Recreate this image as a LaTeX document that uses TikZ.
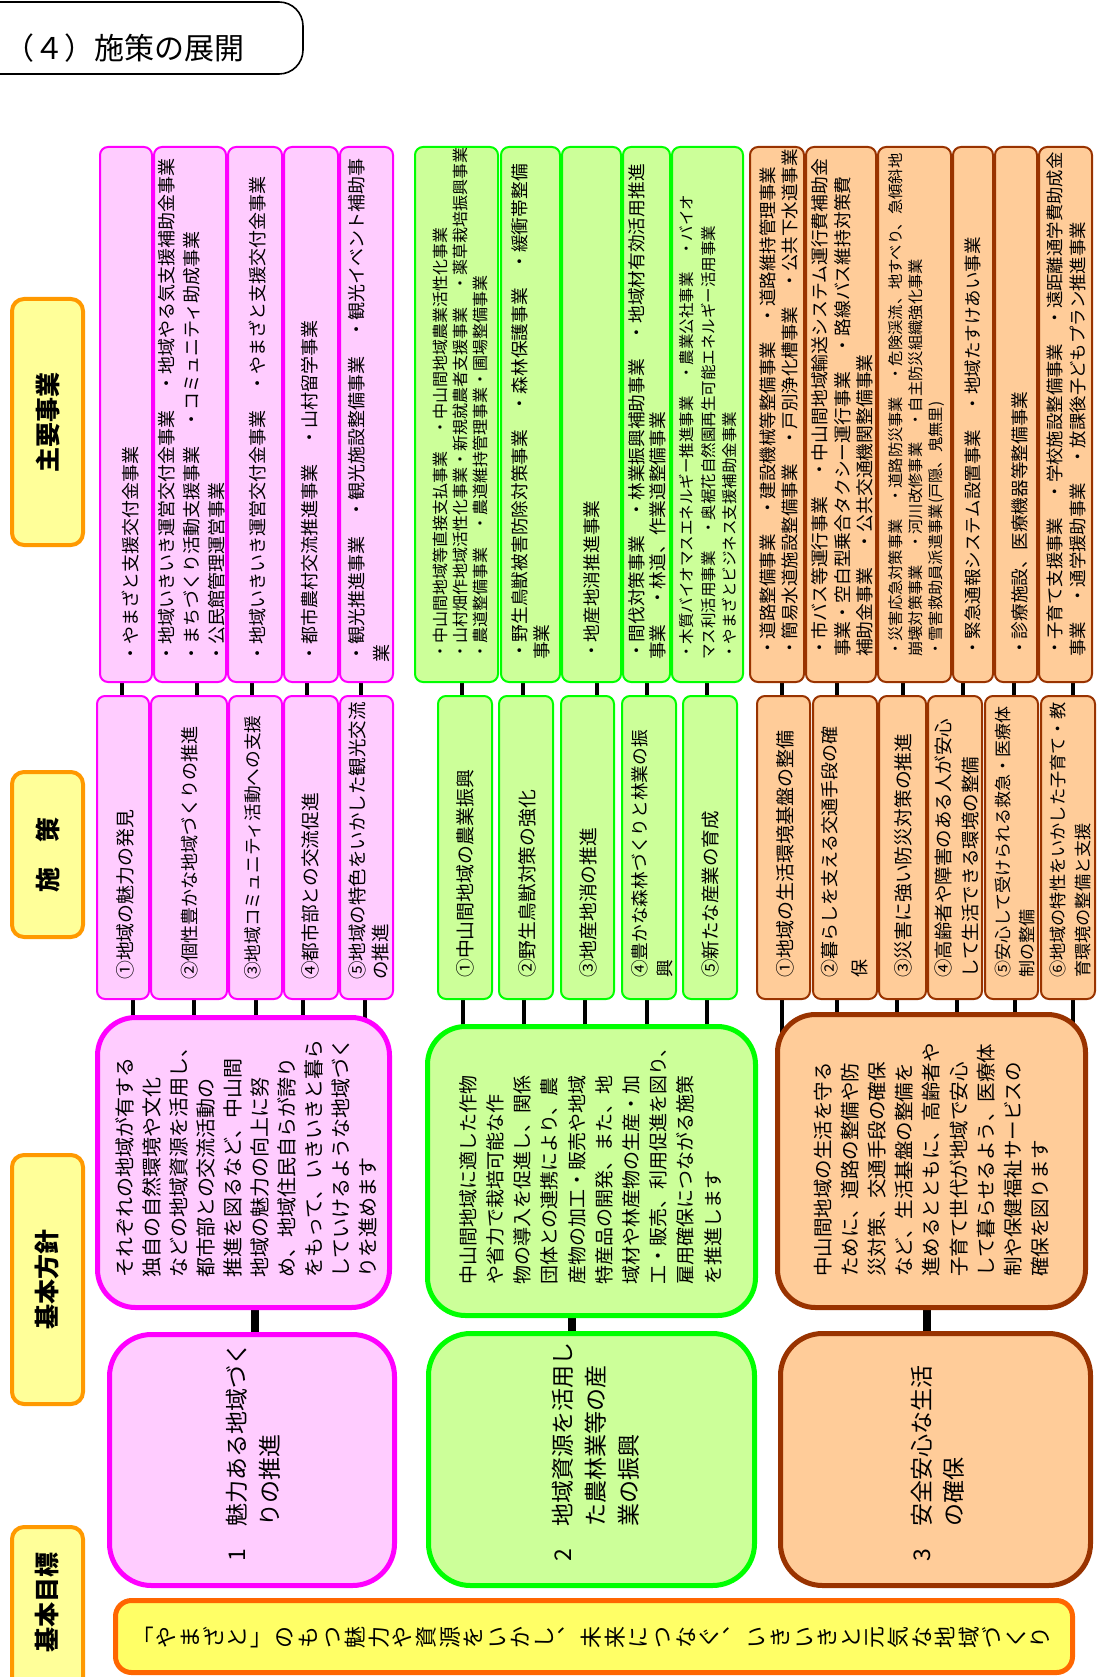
\documentclass[tikz,border=0pt]{standalone}
\usepackage{fontspec}
\setmainfont{Noto Sans CJK JP}
\pgfdeclarelayer{bg}
\pgfsetlayers{bg,main}
\definecolor{pinkF}{HTML}{FFCCFF}
\definecolor{pinkB}{HTML}{FF00FF}
\definecolor{greenF}{HTML}{CCFF99}
\definecolor{greenB}{HTML}{00FF00}
\definecolor{orF}{HTML}{FFCC99}
\definecolor{orB}{HTML}{993300}
\definecolor{hdrF}{HTML}{FFFF99}
\definecolor{hdrB}{HTML}{FF9900}
\definecolor{banF}{HTML}{FFFF66}
\definecolor{banB}{HTML}{FF6600}
\newcommand\fz[2]{\fontsize{#1}{#2}\selectfont}
\newcommand\mkbox[6]{\node[#1, minimum width={(#5)-(#3)}, minimum height={(#6)-(#4)}] (#2) at ({((#3)+(#5))/2},{((#4)+(#6))/2}) {};}
\tikzset{
  hdr/.style={draw=hdrB, fill=hdrF, line width=4pt, rounded corners=12pt, inner sep=0pt},
  ban/.style={draw=banB, fill=banF, line width=5pt, rounded corners=16pt, inner sep=0pt},
  bchar/.style={rotate=90, inner sep=0pt, font=\fz{22}{22}, text height=19.4pt, text depth=2.6pt, text width=22pt, align=center},
  pkS/.style={draw=pinkB, fill=pinkF, line width=2pt, rounded corners=8pt, inner sep=0pt},
  pkL/.style={draw=pinkB, fill=pinkF, line width=5pt, rounded corners=38pt, inner sep=0pt},
  pkG/.style={draw=pinkB, fill=pinkF, line width=5pt, rounded corners=42pt, inner sep=0pt},
  grS/.style={draw=greenB, fill=greenF, line width=2pt, rounded corners=8pt, inner sep=0pt},
  grL/.style={draw=greenB, fill=greenF, line width=5pt, rounded corners=38pt, inner sep=0pt},
  grG/.style={draw=greenB, fill=greenF, line width=5pt, rounded corners=42pt, inner sep=0pt},
  orS/.style={draw=orB, fill=orF, line width=2pt, rounded corners=8pt, inner sep=0pt},
  orL/.style={draw=orB, fill=orF, line width=5pt, rounded corners=38pt, inner sep=0pt},
  orG/.style={draw=orB, fill=orF, line width=5pt, rounded corners=42pt, inner sep=0pt},
  rt/.style={rotate=90, anchor=west, inner sep=0pt, align=left},
  htext/.style={rotate=90, inner sep=0pt, font=\fz{25}{25}\bfseries},
  conn/.style={line width=4pt, black},
  connB/.style={line width=8pt, black},
}
\begin{document}
\begin{tikzpicture}[x=1pt,y=-1pt]
\useasboundingbox (0,0) rectangle (1096,1677);

% title
\draw[line width=1.6pt, rounded corners=24pt] (-30,2) -- (303,2) -- (303,74) -- (-30,74);
\node[anchor=west, inner sep=0pt, font=\fz{30}{30}] (ttl) at (4,48) {（４）施策の展開};

% headers
\mkbox{hdr}{h1}{12}{299}{83}{545}
\mkbox{hdr}{h2}{12}{772}{83}{937}
\mkbox{hdr}{h3}{12}{1155}{83}{1404}
\mkbox{hdr}{h4}{12}{1527}{83}{1720}
\node[htext] (th1) at (47.5,422) {主要事業};
\node[htext] (th2) at (47.5,854.5) {施　策};
\node[htext] (th3) at (47.5,1279.5) {基本方針};
\node[htext] (th4) at (47.5,1602) {基本目標};

% banner (vertical writing, page turned)
\mkbox{ban}{banner}{115.5}{1600.5}{1072.5}{1672.5}
\foreach \c [count=\i] in {﹁,や,ま,ざ,と,﹂,の,も,つ,魅,力,や,資,源,を,い,か,し,︑,未,来,に,つ,な,ぐ,︑,い,き,い,き,と,元,気,な,地,域,づ,く,り}
  \node[bchar] (bc\i) at ({131+23.6*(\i-0.5)},1637) {\c};

% ---------- pink column ----------
\mkbox{pkS}{mp1}{100}{147}{152}{682}
\mkbox{pkS}{mp2}{154}{147}{226}{682}
\mkbox{pkS}{mp3}{228}{147}{282}{682}
\mkbox{pkS}{mp4}{284}{147}{338}{682}
\mkbox{pkS}{mp5}{340}{147}{393}{682}
\mkbox{pkS}{sp1}{97}{696}{149}{999}
\mkbox{pkS}{sp2}{151}{696}{227}{999}
\mkbox{pkS}{sp3}{229}{696}{282}{999}
\mkbox{pkS}{sp4}{284}{696}{338}{999}
\mkbox{pkS}{sp5}{340}{696}{393}{999}
\mkbox{pkL}{polp}{97.5}{1017.5}{389.5}{1307.5}
\mkbox{pkG}{goalp}{109.5}{1334.5}{394.5}{1585.5}

\node[rt, font=\fz{18}{25}] (tmp1) at (130,663) {・やまざと支援交付金事業};
\node[rt, font=\fz{18}{25}] (tmp2) at (192,663) {・地域いきいき運営交付金事業　・地域やる気支援補助金事業\\・まちづくり活動支援事業　・コミュニティ助成事業\\・公民館管理運営事業};
\node[rt, font=\fz{18}{25}] (tmp3) at (257,663) {・地域いきいき運営交付金事業　・やまざと支援交付金事業};
\node[rt, font=\fz{18}{25}] (tmp4) at (310,663) {・都市農村交流推進事業　・山村留学事業};
\node[rt, font=\fz{18}{25}] (tmp5) at (369,663) {・観光推進事業　・観光施設整備事業　・観光イベント補助事\\業};

\node[rt, font=\fz{18.9}{23}] (tsp1) at (125,980) {①地域の魅力の発見};
\node[rt, font=\fz{18.1}{23}] (tsp2) at (190,980) {②個性豊かな地域づくりの推進};
\node[rt, font=\fz{17.7}{23}] (tsp3) at (253,980) {③地域コミュニティ活動への支援};
\node[rt, font=\fz{18.7}{23}] (tsp4) at (310,980) {④都市部との交流促進};
\node[rt, font=\fz{18.5}{23}] (tsp5) at (368.5,980) {⑤地域の特色をいかした観光交流\\の推進};

\node[rt, font=\fz{20}{27}] (tpolp) at (246.5,1278) {それぞれの地域が有する\\独自の自然環境や文化\\などの地域資源を活用し、\\都市部との交流活動の\\推進を図るなど、中山間\\地域の魅力の向上に努\\め、地域住民自らが誇り\\をもって、いきいきと暮ら\\していけるような地域づく\\りを進めます};

\node[rt, font=\fz{23}{33}] (tgoalp) at (253.5,1562) {\makebox[35pt][l]{1}魅力ある地域づく\\\hspace*{35pt}りの推進};

% ---------- green column ----------
\mkbox{grS}{mg1}{415}{147}{498}{682}
\mkbox{grS}{mg2}{501}{147}{560}{682}
\mkbox{grS}{mg3}{562}{147}{621}{682}
\mkbox{grS}{mg4}{623}{147}{670}{682}
\mkbox{grS}{mg5}{672}{147}{743}{682}
\mkbox{grS}{sg1}{438}{696}{492}{999}
\mkbox{grS}{sg2}{499}{696}{553}{999}
\mkbox{grS}{sg3}{561}{696}{614}{999}
\mkbox{grS}{sg4}{622}{696}{676}{999}
\mkbox{grS}{sg5}{683}{696}{737}{999}
\mkbox{grL}{polg}{427.5}{1026.5}{755.5}{1315.5}
\mkbox{grG}{goalg}{428.5}{1333.5}{754.5}{1585.5}

\node[rt, font=\fz{16}{20}] (tmg1) at (460,660) {・中山間地域等直接支払事業　・中山間地域農業活性化事業\\・山村畑作地域活性化事業・新規就農者支援事業　・薬草栽培振興事業\\・農道整備事業　・農道維持管理事業・圃場整備事業};
\node[rt, font=\fz{17.7}{22}] (tmg2) at (531,660) {・野生鳥獣被害防除対策事業　・森林保護事業　・緩衝帯整備\\事業};
\node[rt, font=\fz{17.7}{22}] (tmg3) at (592,660) {・地産地消推進事業};
\node[rt, font=\fz{17.7}{21}] (tmg4) at (647.5,660) {・間伐対策事業　・林業振興補助事業　・地域材有効活用推進\\事業　・林道、作業道整備事業};
\node[rt, font=\fz{15.5}{21.5}] (tmg5) at (708.5,660) {・木質バイオマスエネルギー推進事業　・農業公社事業　・バイオ\\マス利活用事業　・奥裾花自然園再生可能エネルギー活用事業\\・やまざとビジネス支援補助金事業};

\node[rt, font=\fz{18.9}{23}] (tsg1) at (465,978) {①中山間地域の農業振興};
\node[rt, font=\fz{18.8}{23}] (tsg2) at (527,978) {②野生鳥獣対策の強化};
\node[rt, font=\fz{18.75}{23}] (tsg3) at (588,978) {③地産地消の推進};
\node[rt, font=\fz{17.7}{25}] (tsg4) at (652.5,978) {④豊かな森林づくりと林業の振\\興};
\node[rt, font=\fz{18.5}{23}] (tsg5) at (710,978) {⑤新たな産業の育成};

\node[rt, font=\fz{19}{27.2}] (tpolg) at (590.5,1285) {中山間地域に適した作物\\や省力で栽培可能な作\\物の導入を促進し、関係\\団体との連携により、農\\産物の加工・販売や地域\\特産品の開発、また、地\\域材や林産物の生産・加\\工・販売、利用促進を図り、\\雇用確保につながる施策\\を推進します};

\node[rt, font=\fz{23}{33}] (tgoalg) at (596,1562) {\makebox[35pt][l]{2}地域資源を活用し\\\hspace*{35pt}た農林業等の産\\\hspace*{35pt}業の振興};

% ---------- orange column ----------
\mkbox{orS}{mo1}{750}{147}{804}{682}
\mkbox{orS}{mo2}{806}{147}{876}{682}
\mkbox{orS}{mo3}{878}{147}{951}{682}
\mkbox{orS}{mo4}{953}{147}{993}{682}
\mkbox{orS}{mo5}{995}{147}{1037}{682}
\mkbox{orS}{mo6}{1039}{147}{1092}{682}
\mkbox{orS}{so1}{757}{696}{810}{999}
\mkbox{orS}{so2}{813}{696}{877}{999}
\mkbox{orS}{so3}{879}{696}{926}{999}
\mkbox{orS}{so4}{928}{696}{982}{999}
\mkbox{orS}{so5}{985}{696}{1038}{999}
\mkbox{orS}{so6}{1041}{696}{1095}{999}
\mkbox{orL}{polo}{777.5}{1014.5}{1085.5}{1307.5}
\mkbox{orG}{goalo}{780.5}{1333.5}{1090.5}{1585.5}

\node[rt, font=\fz{17.5}{22}] (tmo1) at (779,657) {・道路整備事業　・建設機械等整備事業　・道路維持管理事業\\・簡易水道施設整備事業　・戸別浄化槽事業　・公共下水道事業};
\node[rt, font=\fz{17.8}{22.5}] (tmo2) at (842.5,657) {・市バス等運行事業　・中山間地域輸送システム運行費補助金\\事業・空白型乗合タクシー運行事業　・路線バス維持対策費\\補助金事業　・公共交通機関整備事業};
\node[rt, font=\fz{15.3}{20}] (tmo3) at (917,657) {・災害応急対策事業　・道路防災事業　・危険渓流、地すべり、急傾斜地\\崩壊対策事業　・河川改修事業　・自主防災組織強化事業\\・雪害救助員派遣事業(戸隠、鬼無里)};
\node[rt, font=\fz{17.5}{22}] (tmo4) at (973,657) {・緊急通報システム設置事業　・地域たすけあい事業};
\node[rt, font=\fz{17.7}{22}] (tmo5) at (1020,657) {・診療施設、医療機器等整備事業};
\node[rt, font=\fz{17.4}{23}] (tmo6) at (1066.5,657) {・子育て支援事業　・学校施設整備事業　・遠距離通学費助成金\\事業　・通学援助事業　・放課後子どもプラン推進事業};

\node[rt, font=\fz{19}{23}] (tso1) at (785,978) {①地域の生活環境基盤の整備};
\node[rt, font=\fz{18}{30}] (tso2) at (845,978) {②暮らしを支える交通手段の確\\保};
\node[rt, font=\fz{18.8}{23}] (tso3) at (903,978) {③災害に強い防災対策の推進};
\node[rt, font=\fz{18.5}{27}] (tso4) at (956.5,978) {④高齢者や障害のある人が安心\\して生活できる環境の整備};
\node[rt, font=\fz{17}{24}] (tso5) at (1015,978) {⑤安心して受けられる救急・医療体\\制の整備};
\node[rt, font=\fz{17.2}{25}] (tso6) at (1070.5,978) {⑥地域の特性をいかした子育て・教\\育環境の整備と支援};

\node[rt, font=\fz{19.5}{27.1}] (tpolo) at (931.5,1277) {中山間地域の生活を守る\\ために、道路の整備や防\\災対策、交通手段の確保\\など、生活基盤の整備を\\進めるとともに、高齢者や\\子育て世代が地域で安心\\して暮らせるよう、医療体\\制や保健福祉サービスの\\確保を図ります};

\node[rt, font=\fz{23}{32}] (tgoalo) at (938,1562) {\makebox[35pt][l]{3}安全安心な生活\\\hspace*{35pt}の確保};

% ---------- connectors (behind boxes) ----------
\begin{pgfonlayer}{bg}
\fill[white] (0,0) rectangle (1096,1677);
\foreach \ca/\cb/\xx in {mp1/sp1/122, mp2/sp2/197, mp3/sp3/252, mp4/sp4/307, mp5/sp5/361,
  sp1/polp/133, sp2/polp/194, sp3/polp/256, sp4/polp/303, sp5/polp/365,
  mg1/sg1/462, mg2/sg2/523, mg3/sg3/597, mg4/sg4/647, mg5/sg5/707,
  sg1/polg/463, sg2/polg/524, sg3/polg/585, sg4/polg/647, sg5/polg/707,
  mo1/so1/782, mo2/so2/837, mo3/so3/903, mo4/so4/963, mo5/so5/1014, mo6/so6/1073,
  so1/polo/782, so2/polo/837, so3/polo/897, so4/polo/957, so5/polo/1015, so6/polo/1073}
  \draw[conn] (\ca.center -| \xx,0) -- (\cb.center -| \xx,0);
\foreach \ca/\cb/\xx in {polp/goalp/255, polg/goalg/572, polo/goalo/927}
  \draw[connB] (\ca.center -| \xx,0) -- (\cb.center -| \xx,0);
\end{pgfonlayer}
\end{tikzpicture}
\end{document}
